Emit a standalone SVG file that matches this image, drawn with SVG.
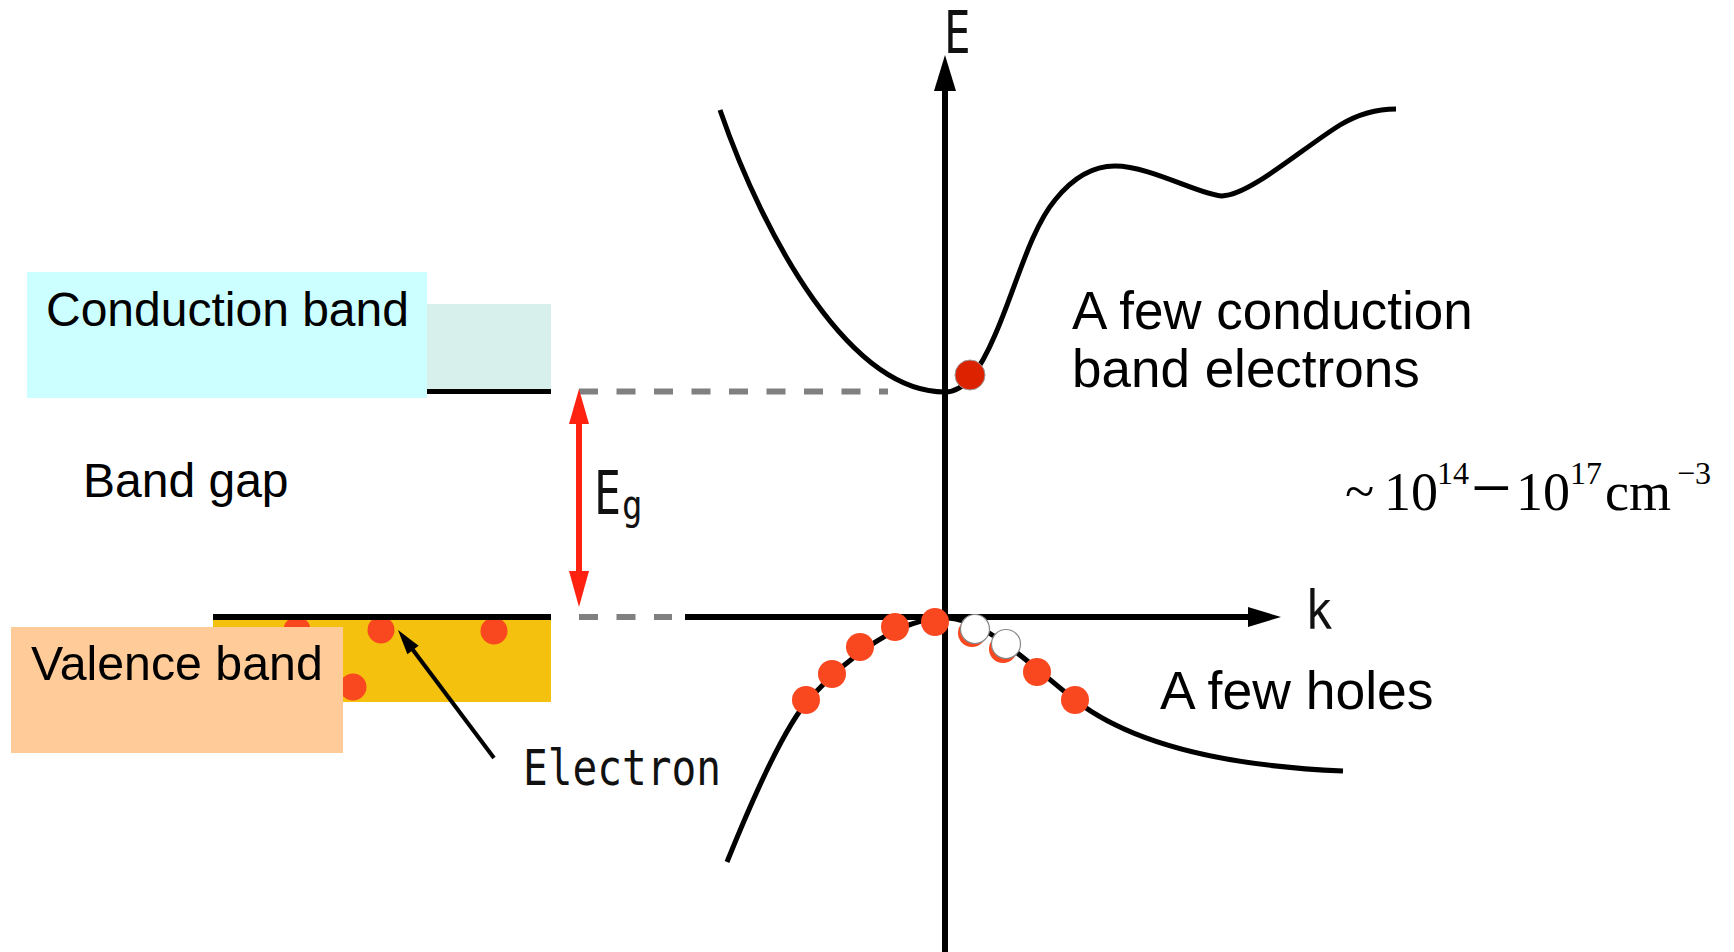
<svg xmlns="http://www.w3.org/2000/svg" width="1734" height="952" viewBox="0 0 1734 952">
<style>
.lbl{font-family:"Liberation Sans",Arial,sans-serif;fill:#000}
.mono{font-family:"DejaVu Sans Mono","Liberation Mono",monospace;fill:#111}
.math{font-family:"Liberation Serif","Times New Roman",serif;fill:#000}
.curve{fill:none;stroke:#000;stroke-width:5;stroke-linecap:butt}
.axis{stroke:#000;stroke-width:6}
.dash{stroke:#808080;stroke-width:6;stroke-dasharray:19 18.5}
.edot{fill:#F94820}
.hole{fill:#fff;stroke:#888;stroke-width:1.2}
</style>
<rect width="1734" height="952" fill="#fff"/>

<g id="conduction-band">
  <rect x="427" y="304" width="124" height="87" fill="#D8F0EC"/>
  <rect x="27" y="272" width="400" height="126" fill="#CCFFFF"/>
  <text class="lbl" x="46" y="326" font-size="48">Conduction band</text>
  <line x1="427" y1="391.5" x2="551" y2="391.5" stroke="#000" stroke-width="5"/>
</g>

<g id="band-gap">
  <text class="lbl" x="83" y="497" font-size="48">Band gap</text>
</g>

<g id="valence-band">
  <rect x="213" y="619" width="338" height="83" fill="#F5C10F"/>
  <circle class="edot" cx="297" cy="630" r="13.5"/>
  <circle class="edot" cx="381" cy="630" r="13.5"/>
  <circle class="edot" cx="494" cy="631" r="13.5"/>
  <circle class="edot" cx="353" cy="687" r="13.5"/>
  <rect x="11" y="627" width="332" height="126" fill="#FFCC99"/>
  <text class="lbl" x="31" y="680" font-size="48.3">Valence band</text>
  <line x1="213" y1="617" x2="551" y2="617" stroke="#000" stroke-width="6"/>
</g>

<g id="electron-label">
  <text class="mono" x="523" y="785" font-size="50" fill="#222" textLength="198" lengthAdjust="spacingAndGlyphs">Electron</text>
</g>

<g id="axes">
  <line class="axis" x1="945" y1="952" x2="945" y2="80"/>
  <polygon points="945,55 956,91 934,91" fill="#000"/>
  <line class="axis" x1="685" y1="617" x2="1255" y2="617"/>
  <polygon points="1281,617 1248,607 1248,627" fill="#000"/>
  <text class="mono" transform="translate(944,53) scale(0.75,1)" font-size="59">E</text>
  <text class="mono" transform="translate(1305,629) scale(0.85,1)" font-size="54">k</text>
</g>

<g id="conduction-curve">
  <path class="curve" d="M720,110 C765,240 850,392 945,392"/>
  <path class="curve" d="M945,392 C965,392 980,370 995,335 C1015,290 1030,230 1055,200 C1075,175 1095,166 1115,166 C1150,166 1200,195 1222,196 C1250,195 1300,150 1340,125 C1360,113 1380,109 1396,109"/>
  <circle cx="970" cy="375" r="15" fill="#DD2200" stroke="#999" stroke-width="1"/>
</g>

<g id="valence-curve">
  <path class="curve" d="M727,862 C760,780 790,720 810,698 C850,655 900,618 945,618 C985,618 1030,665 1075,700 C1120,735 1200,765 1343,771"/>
  <circle class="edot" cx="806" cy="700" r="14"/>
  <circle class="edot" cx="832" cy="674" r="14"/>
  <circle class="edot" cx="860" cy="647" r="14"/>
  <circle class="edot" cx="895" cy="627" r="14"/>
  <circle class="edot" cx="935" cy="622" r="14"/>
  <circle class="edot" cx="972" cy="633" r="14"/>
  <circle class="edot" cx="1003" cy="649" r="14"/>
  <circle class="edot" cx="1037" cy="672" r="14"/>
  <circle class="edot" cx="1075" cy="700" r="14"/>
  <circle class="hole" cx="975" cy="629" r="14.5"/>
  <circle class="hole" cx="1006" cy="644" r="14.5"/>
</g>

<g id="eg-label">
  <text class="mono" transform="translate(594,514) scale(0.75,1)" font-size="60">E</text>
  <text class="mono" transform="translate(622,519) scale(0.85,1)" font-size="40">g</text>
</g>

<g id="annotations">
  <text class="lbl" x="1072" y="329" font-size="53">A few conduction</text>
  <text class="lbl" x="1072" y="387" font-size="53">band electrons</text>
  <text class="lbl" x="1160" y="709" font-size="53.5">A few holes</text>
  <text class="math" font-size="54"><tspan x="1345" y="510">~</tspan><tspan x="1384" y="510">10</tspan><tspan x="1437" y="484" font-size="32">14</tspan><tspan x="1471" y="512" font-size="72">−</tspan><tspan x="1516" y="510">10</tspan><tspan x="1570" y="484" font-size="32">17</tspan><tspan x="1605" y="510">cm</tspan><tspan x="1677" y="484" font-size="32">−3</tspan></text>
</g>

<g id="connectors">
  <line class="dash" x1="579" y1="391.5" x2="888" y2="391.5"/>
  <line class="dash" x1="579" y1="617" x2="672" y2="617"/>
  <line x1="579" y1="415" x2="579" y2="580" stroke="#FF2211" stroke-width="6"/>
  <polygon points="579,389 589,424 569,424" fill="#FF2211"/>
  <polygon points="579,607 589,571 569,571" fill="#FF2211"/>
  <line x1="494" y1="758" x2="410" y2="646" stroke="#000" stroke-width="4"/>
  <polygon points="398,630 418.6,645.8 407.4,654.2" fill="#000"/>
</g>
</svg>
